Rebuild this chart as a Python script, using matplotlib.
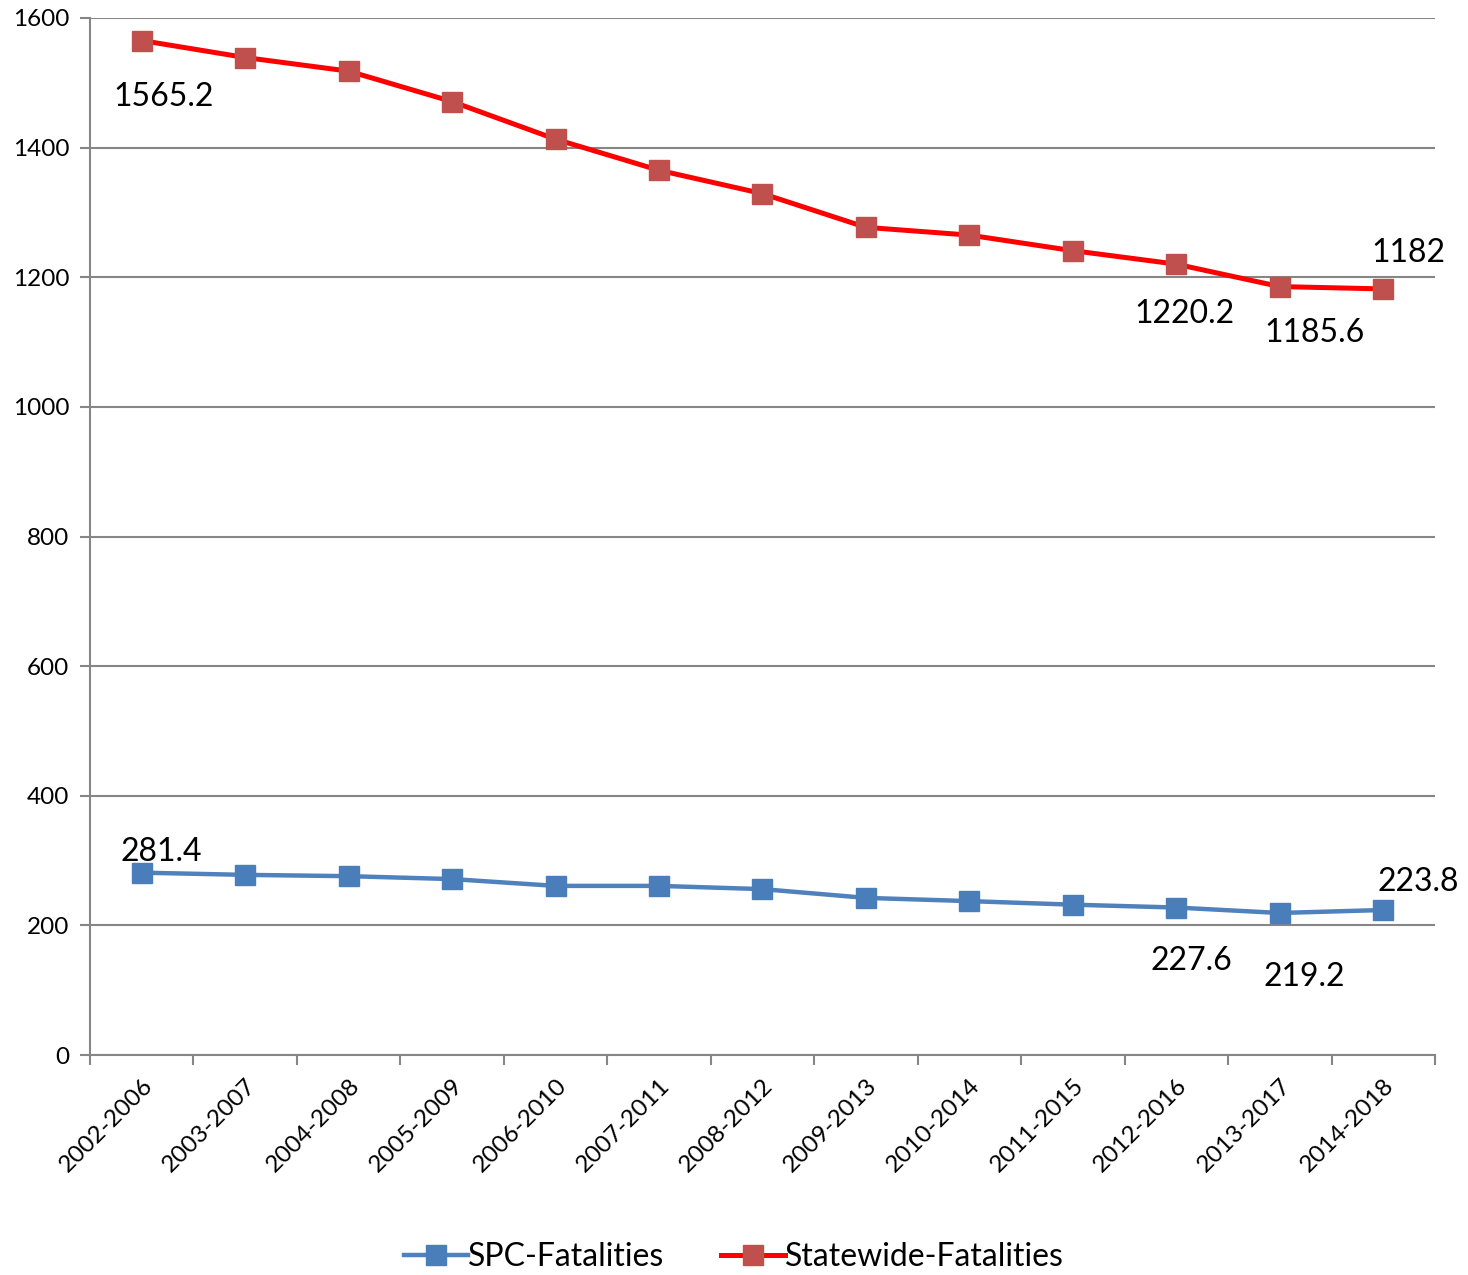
import numpy as np
import matplotlib.pyplot as plt

plt.rcParams['font.family'] = ['Lato', 'DejaVu Sans']

periods = ['2002-2006', '2003-2007', '2004-2008', '2005-2009', '2006-2010', '2007-2011',
           '2008-2012', '2009-2013', '2010-2014', '2011-2015', '2012-2016', '2013-2017', '2014-2018']
spc = [281.4, 278, 276, 271.5, 261, 261, 256, 242.5, 237.5, 232, 227.6, 219.2, 223.8]
statewide = [1565.2, 1539, 1518, 1471, 1413, 1365, 1329, 1277, 1265, 1241, 1220.2, 1185.6, 1182]

# which points carry a data label, with text offsets in pixels
spc_labels = {0: (20, 21), 10: (15, -53), 11: (24, -64), 12: (35, 28)}
state_labels = {0: (22, -56), 10: (8, -50), 11: (35, -46), 12: (25, 36)}

fig = plt.figure(figsize=(14.68, 12.75), dpi=100)
ax = fig.add_axes([0.0613, 0.1725, 0.9162, 0.8134])

x = np.arange(len(periods))
ax.plot(x, spc, color='#4F81BD', lw=3.2, marker='s', ms=14,
        mfc='#4A7EBB', mec='#4A7EBB', label='SPC-Fatalities', zorder=3)
ax.plot(x, statewide, color='#FF0000', lw=3.6, marker='s', ms=14,
        mfc='#C0504D', mec='#C0504D', label='Statewide-Fatalities', zorder=3)

for i, off in spc_labels.items():
    v = spc[i]
    ax.annotate(f'{v:g}', (x[i], v), xytext=off, textcoords='offset pixels',
                ha='center', va='center', fontsize=23)
for i, off in state_labels.items():
    v = statewide[i]
    ax.annotate(f'{v:g}', (x[i], v), xytext=off, textcoords='offset pixels',
                ha='center', va='center', fontsize=23)

ax.set_xlim(-0.5, len(periods) - 0.5)
ax.set_ylim(0, 1600)
ax.set_yticks(range(0, 1601, 200))
ax.yaxis.grid(True, color='#868686', lw=1.5)
ax.set_axisbelow(True)

ax.set_xticks(np.arange(-0.5, len(periods), 1.0))
ax.set_xticklabels([])
ax.set_xticks(x, minor=True)
ax.set_xticklabels(periods, minor=True, rotation=45, ha='right', rotation_mode='anchor', fontsize=17.5)
ax.tick_params(axis='x', which='minor', length=0, pad=14)
ax.tick_params(axis='x', which='major', length=7, width=1.5, color='#868686')
ax.tick_params(axis='y', length=7, width=1.5, color='#868686', labelsize=17.5, pad=8)

for s in ['top', 'right']:
    ax.spines[s].set_visible(False)
for s in ['left', 'bottom']:
    ax.spines[s].set_color('#868686')
    ax.spines[s].set_linewidth(1.5)

fig.legend(loc='lower center', ncol=2, frameon=False, fontsize=23,
           bbox_to_anchor=(0.5, -0.02), handlelength=2.0, handletextpad=0.0,
           columnspacing=1.8)

fig.savefig('out.png', dpi=100)
